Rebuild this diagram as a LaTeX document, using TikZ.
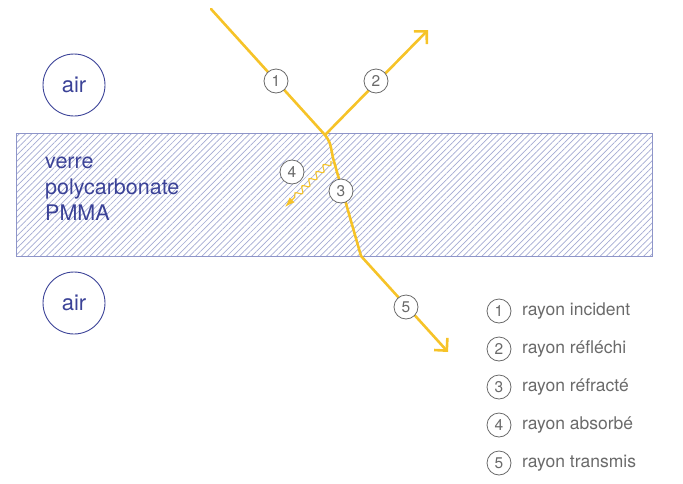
\documentclass[tikz,border=0pt]{standalone}
\usepackage{fontspec}
\setmainfont{TeX Gyre Heros}
\usetikzlibrary{arrows.meta,patterns.meta,decorations.pathmorphing}
\definecolor{ray}{HTML}{F6C328}
\definecolor{navy}{HTML}{3B4297}
\definecolor{hatch}{HTML}{A3AAD2}
\definecolor{frame}{HTML}{8E95C9}
\definecolor{numgray}{HTML}{6A6A6A}
\tikzset{
  raypath/.style={draw=ray, line width=2.6pt, line join=round, line cap=round},
  rayarrow/.style={raypath, -{Straight Barb[length=9pt,width=18pt,line width=2.6pt]}},
  numc/.style={circle, draw=numgray, line width=0.8pt, fill=white, minimum size=24pt, inner sep=0pt, text=numgray, font=\fontsize{15.5}{15.5}\selectfont},
  airc/.style={circle, draw=navy, line width=0.9pt, minimum size=62pt, inner sep=0pt, text=navy, font=\fontsize{22}{22}\selectfont},
  legtext/.style={anchor=west, text=numgray, font=\fontsize{17.5}{18}\selectfont, inner sep=0pt},
}
\begin{document}
\begin{tikzpicture}[x=1pt,y=-1pt]
\useasboundingbox (0,0) rectangle (683,483);
% slab
\fill[pattern={Lines[angle=45,distance=4.4pt,line width=0.7pt]}, pattern color=hatch] (16,133) rectangle (652,256);
\draw[frame, line width=0.8pt] (16,133) rectangle (652,256);
\node[anchor=north west, align=left, text=navy, inner sep=0pt, font=\fontsize{21.5}{26}\selectfont] (mat) at (45,157) {verre\\polycarbonate\\PMMA};
% air
\node[airc] (air1) at (74,85) {air};
\node[airc] (air2) at (74,303) {air};
% ray coordinates
\coordinate (s) at (211,9);
\coordinate (p) at (325,135);
\coordinate (q) at (361,256);
\coordinate (r) at (428,30);
\coordinate (e) at (448,352);
\coordinate (w1) at (331,161);
\coordinate (w2) at (285,207);
\draw[raypath] (s) -- (p);
\draw[rayarrow] (p) .. controls (330,142) .. (333,158) -- (q) -- (e);
\draw[rayarrow] (p) -- (r);
% absorbed wavy
\draw[ray, line width=1.1pt, decorate, decoration={snake, amplitude=3pt, segment length=10pt, post length=10pt}, -{Latex[length=10pt,width=7pt]}] (w1) -- (w2);
% numbered circles
\node[numc] (n1) at (276,81) {1};
\node[numc] (n2) at (376,81) {2};
\node[numc] (n3) at (341,191) {3};
\node[numc] (n4) at (292,172) {4};
\node[numc] (n5) at (406,307) {5};
% legend
\foreach \i/\y/\t in {1/311/rayon incident,2/349/rayon réfléchi,3/387/rayon réfracté,4/425/rayon absorbé,5/463/rayon transmis}{
  \node[numc] (l\i) at (499,\y) {\i};
  \node[legtext] (t\i) at (522,\y) {\t};
}
\end{tikzpicture}
\end{document}
